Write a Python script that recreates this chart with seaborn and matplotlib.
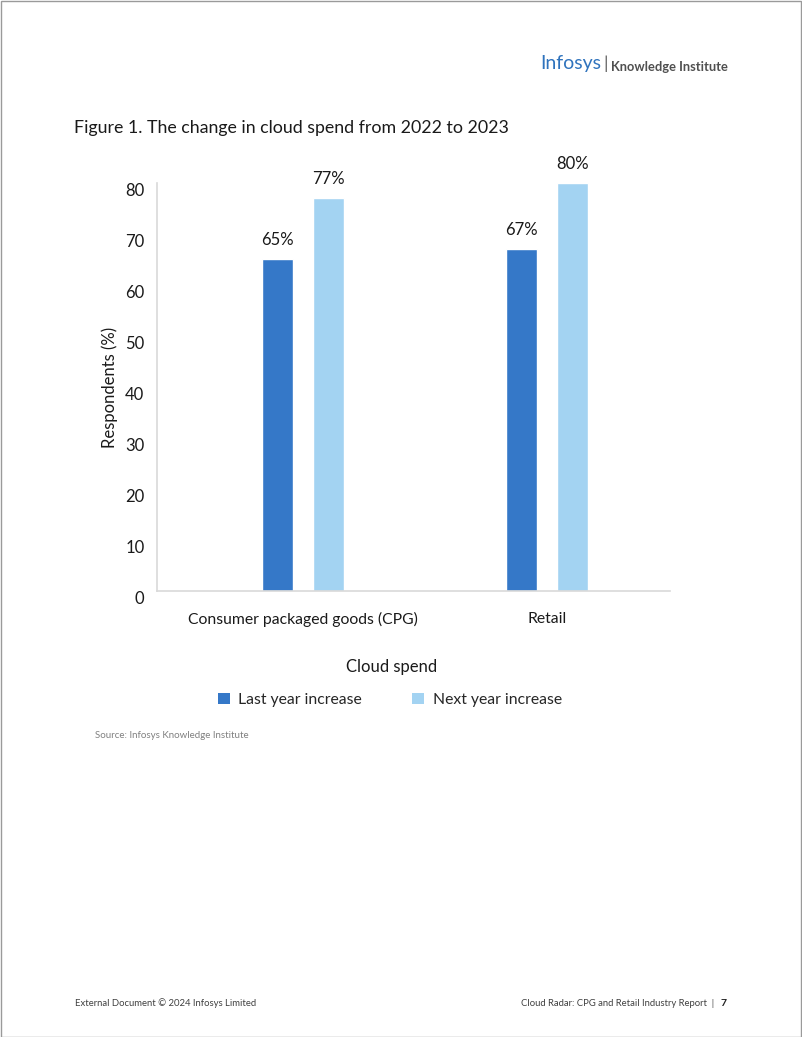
import matplotlib
matplotlib.use("Agg")
import matplotlib.pyplot as plt
import seaborn as sns
import pandas as pd
from matplotlib.patches import Rectangle, Patch

categories = ["Consumer packaged goods (CPG)", "Retail"]
series_names = ["Last year increase", "Next year increase"]
last_year = [65, 67]
next_year = [77, 80]
y_ticks = [0, 10, 20, 30, 40, 50, 60, 70, 80]
colors = ["#3578c8", "#a3d3f2"]

df = pd.DataFrame({
    "category": categories * 2,
    "series": [series_names[0]] * 2 + [series_names[1]] * 2,
    "value": last_year + next_year,
})

sns.set_theme(style="white")
plt.rcParams["font.family"] = ["Lato", "DejaVu Sans"]

FS = 12

fig = plt.figure(figsize=(8.02, 10.37), dpi=100)
ax = fig.add_axes([157/802, 1 - 591/1037, 513/802, 408/1037])

sns.barplot(data=df, x="category", y="value", hue="series", order=categories,
            hue_order=series_names, palette=colors, width=0.418, gap=0.39,
            saturation=1, ax=ax, legend=False)

ax.set_ylim(0, 80)
ax.set_xlim(-0.598, 1.504)
ax.set_yticks(y_ticks)
ax.set_yticklabels([str(t) for t in y_ticks], fontsize=FS, color="#1a1a1a")
for lbl in ax.get_yticklabels():
    lbl.set_va("top")
ax.tick_params(axis="y", length=0, pad=9)
ax.tick_params(axis="x", length=0, pad=15, labelcolor="#1a1a1a")
ax.set_xticks(range(len(categories)))
ax.set_xticklabels(categories, fontsize=11.3)
for s in ["top", "right"]:
    ax.spines[s].set_visible(False)
for s in ["left", "bottom"]:
    ax.spines[s].set_color("#d9d9d9")
    ax.spines[s].set_linewidth(1.2)
ax.set_xlabel("")
ax.set_ylabel("Respondents (%)", fontsize=FS, color="#1a1a1a", labelpad=5)

for cont in ax.containers:
    ax.bar_label(cont, labels=[f"{v:.0f}%" for v in cont.datavalues],
                 padding=8, fontsize=FS, color="#1a1a1a")

fig.text(392/802, 1 - 667/1037, "Cloud spend", ha="center", va="center",
         fontsize=FS, color="#1a1a1a")

handles = [Patch(facecolor=c, edgecolor="none") for c in colors]
fig.legend(handles, series_names, loc="center", bbox_to_anchor=(390/802, 1 - 700/1037),
           ncol=2, frameon=False, fontsize=11.3, handlelength=0.75, handleheight=0.75,
           columnspacing=3.2, handletextpad=0.55)

fig.text(74/802, 1 - 128/1037, "Figure 1. The change in cloud spend from 2022 to 2023",
         ha="left", va="center", fontsize=12.8, color="#1a1a1a")
fig.text(95/802, 1 - 736/1037, "Source: Infosys Knowledge Institute",
         ha="left", va="center", fontsize=7, color="#808080")

# logo
fig.text(540/802, 1 - 63/1037, "Infosys", ha="left", va="center",
         fontsize=14, color="#2f73bd")
fig.text(603/802, 1 - 64/1037, "|", ha="left", va="center", fontsize=13, color="#606060")
fig.text(611/802, 1 - 67/1037, "Knowledge Institute", ha="left", va="center",
         fontsize=9.3, color="#505050", fontweight="bold")

# footer
fig.text(75/802, 1 - 1003/1037, "External Document \u00a9 2024 Infosys Limited",
         ha="left", va="center", fontsize=6.8, color="#404040")
fig.text(714/802, 1 - 1004/1037, "Cloud Radar: CPG and Retail Industry Report  |",
         ha="right", va="center", fontsize=6.8, color="#404040")
fig.text(721/802, 1 - 1004/1037, "7", ha="left", va="center",
         fontsize=7.5, color="#202020", fontweight="bold")

fig.add_artist(Rectangle((0.5/802, 0.5/1037), 1 - 1.5/802, 1 - 1.5/1037,
                         transform=fig.transFigure, fill=False,
                         edgecolor="#9a9a9a", linewidth=1))

fig.savefig("out.png", dpi=100, facecolor="white")
